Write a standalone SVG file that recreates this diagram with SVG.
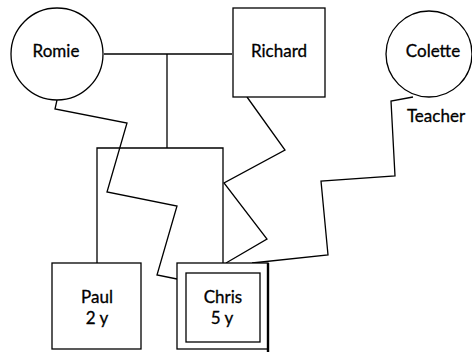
<svg xmlns="http://www.w3.org/2000/svg" width="472" height="352" viewBox="0 0 472 352">
<style>
.n{fill:#fff;stroke:#000;stroke-width:1.3}
.c{fill:none;stroke:#000;stroke-width:1.3;stroke-linejoin:miter}
text{font-family:Lato,"Open Sans","Liberation Sans",sans-serif;font-size:17px;fill:#000;text-anchor:middle;stroke:#000;stroke-width:0.3}
</style>
<rect width="472" height="352" fill="#fff"/>
<g id="connectors">
<polyline class="c" points="104,54 232,54"/>
<polyline class="c" points="167,54 167,148"/>
<polyline class="c" points="97,263 97,148 223,148 223,263"/>
<polyline class="c" points="57,100 55,109 127,123 107,192 177,206 157,275 177,279"/>
<polyline class="c" points="247,97 285,150 224,183 267,239 226,263"/>
<polyline class="c" points="413,97 391,101 395,176 321,181 328,255 252,263"/>
</g>
<g id="romie"><circle class="n" cx="57" cy="54" r="46"/><text x="56" y="57">Romie</text></g>
<g id="richard"><rect class="n" x="233" y="8" width="92" height="89"/><text x="279" y="57">Richard</text></g>
<g id="colette"><circle class="n" cx="429" cy="54" r="43"/><text x="433" y="57">Colette</text><text x="436" y="122">Teacher</text></g>
<g id="paul"><rect class="n" x="52" y="263" width="89" height="86"/><text x="97" y="303">Paul</text><text x="97" y="324">2 y</text></g>
<g id="chris"><rect class="n" x="177" y="263" width="91" height="86"/><line x1="268" y1="263" x2="268" y2="352" stroke="#000" stroke-width="2.4"/><rect class="n" x="186" y="273" width="74" height="69"/><text x="223" y="303">Chris</text><text x="222" y="324">5 y</text></g>
</svg>
